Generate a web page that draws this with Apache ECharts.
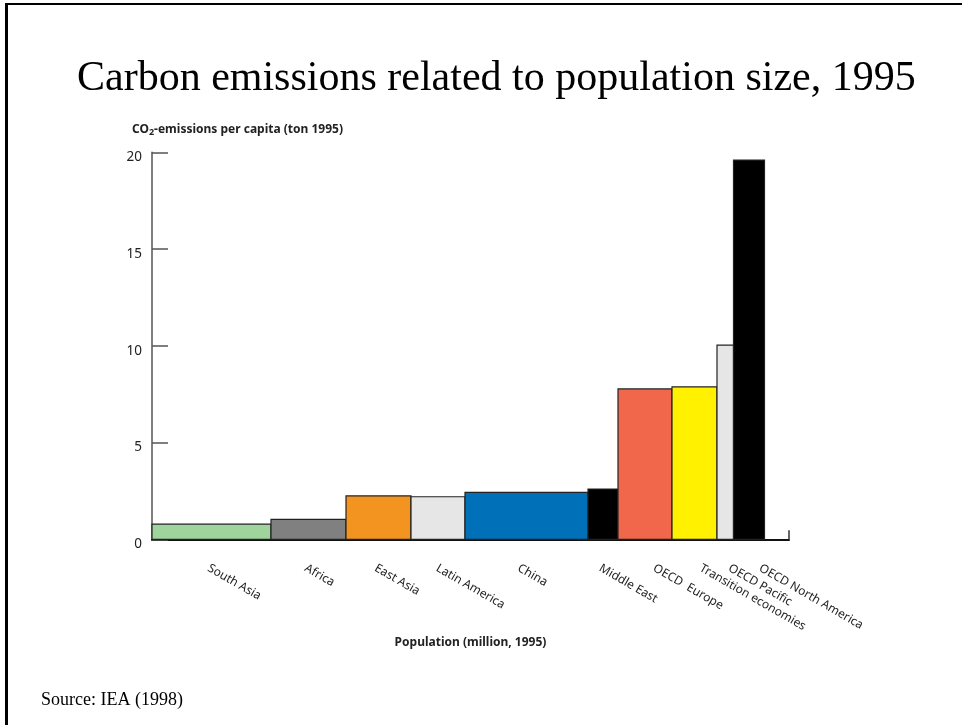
<!DOCTYPE html>
<html>
<head>
<meta charset="utf-8">
<script src="https://cdn.jsdelivr.net/npm/echarts@6/dist/echarts.min.js"></script>
<style>
html,body{margin:0;padding:0;background:#fff;}
#chart{width:962px;height:725px;}
</style>
</head>
<body>
<div id="chart"></div>
<script>
// Regions (categories)
const categories = ['South Asia', 'Africa', 'East Asia', 'Latin America', 'China', 'Middle East', 'OECD  Europe', 'Transition economies', 'OECD Pacific', 'OECD North America'];
// Population, million (1995) -> bar widths
const population = [1190, 750, 650, 540, 1230, 300, 540, 450, 165, 310];
// CO2 emissions per capita, ton (1995) -> bar heights
const emissions = [0.78, 1.03, 2.24, 2.2, 2.43, 2.6, 7.77, 7.88, 10.03, 19.6];
// y axis tick labels
const yTicks = [0, 5, 10, 15, 20];

// styling
const fills = ['#a0d49d', '#808080', '#f39420', '#e6e6e6', '#0071b9', '#000000', '#f0674b', '#fff100', '#e6e6e6', '#000000'];
const labelNudge = [-3, -3, -3, -1, -8, -3, 9, 6, 4, 11];

const popMax = 6370;

const barData = [];
let cum = 0;
for (let i = 0; i < categories.length; i++) {
  barData.push([cum, cum + population[i], emissions[i], i]);
  cum += population[i];
}

const chart = echarts.init(document.getElementById('chart'));
const option = {
  backgroundColor: '#fff',
  animation: false,
  title: {
    text: 'Carbon emissions related to population size, 1995',
    left: 72,
    top: 53,
    textStyle: { fontFamily: '"Liberation Serif"', fontSize: 42, fontWeight: 'normal', color: '#000' }
  },
  grid: { left: 152, right: 173, top: 152.3, bottom: 185.7, containLabel: false },
  xAxis: {
    type: 'value',
    min: 0,
    max: popMax,
    name: 'Population (million, 1995)',
    nameLocation: 'middle',
    nameGap: 97,
    nameTextStyle: { fontFamily: '"Noto Sans"', fontSize: 12, fontWeight: 'bold', color: '#222' },
    axisLine: { show: true, onZero: false, lineStyle: { color: '#111', width: 2 } },
    axisTick: { show: true, inside: true, length: 9, customValues: [popMax], lineStyle: { color: '#333', width: 1.5 } },
    axisLabel: { show: false },
    splitLine: { show: false }
  },
  yAxis: {
    type: 'value',
    min: yTicks[0],
    max: yTicks[yTicks.length - 1],
    interval: 5,
    axisLine: { show: true, lineStyle: { color: '#555', width: 1.5 } },
    axisTick: { show: true, inside: true, length: 16, lineStyle: { color: '#555', width: 1.5 } },
    axisLabel: { fontFamily: '"Noto Sans"', fontSize: 13.5, color: '#222', margin: 10, verticalAlign: 'top', lineHeight: 10 },
    splitLine: { show: false }
  },
  graphic: [
    { type: 'line', shape: { x1: 6.5, y1: 4, x2: 6.5, y2: 725 }, style: { stroke: '#000', lineWidth: 3 } },
    { type: 'line', shape: { x1: 5, y1: 4, x2: 962, y2: 4 }, style: { stroke: '#000', lineWidth: 2 } },
    {
      type: 'text', left: 132, top: 124,
      style: {
        text: '{b|CO}{s|2}{b|-emissions per capita (ton 1995)}',
        rich: {
          b: { fontFamily: '"Noto Sans"', fontSize: 12, fontWeight: 'bold', fill: '#222' },
          s: { fontFamily: '"Noto Sans"', fontSize: 9, fontWeight: 'bold', fill: '#222', padding: [5, 0, 0, 0] }
        }
      }
    },
    {
      type: 'text', left: 41, top: 691,
      style: { text: 'Source: IEA (1998)', font: '18px "Liberation Serif"', fill: '#000' }
    }
  ],
  series: [{
    type: 'custom',
    clip: false,
    data: barData,
    encode: { x: [0, 1], y: 2 },
    renderItem: function (params, api) {
      const idx = api.value(3);
      const pTop = api.coord([api.value(0), api.value(2)]);
      const pBot = api.coord([api.value(1), 0]);
      const cx = (pTop[0] + pBot[0]) / 2;
      return {
        type: 'group',
        children: [
          {
            type: 'rect',
            shape: { x: pTop[0], y: pTop[1], width: pBot[0] - pTop[0], height: pBot[1] - pTop[1] },
            style: { fill: fills[idx], stroke: '#222', lineWidth: 1.2 }
          },
          {
            type: 'text',
            x: cx + labelNudge[idx],
            y: pBot[1] + 28,
            rotation: -Math.PI / 6,
            style: { text: categories[idx], font: '12px "Noto Sans"', fill: '#222', align: 'left', verticalAlign: 'middle' }
          }
        ]
      };
    }
  }]
};
chart.setOption(option);
</script>
</body>
</html>
